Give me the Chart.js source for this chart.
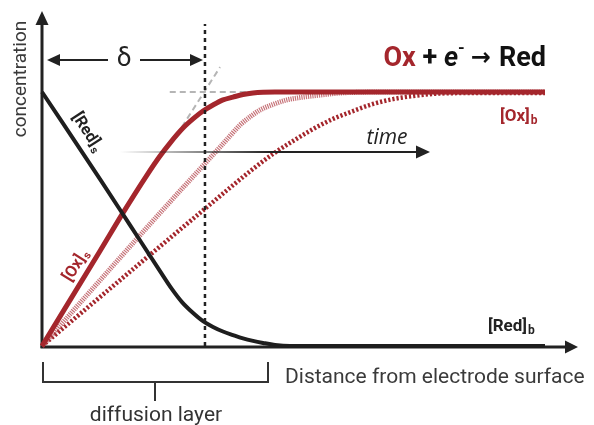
<!DOCTYPE html>
<html><head><meta charset="utf-8">
<script src="https://cdn.jsdelivr.net/npm/chart.js@4.4.0/dist/chart.umd.min.js"></script>
<style>html,body{margin:0;padding:0;background:#fff}canvas{display:block}</style>
</head><body>
<canvas id="chart" width="594" height="425"></canvas>
<script>
// distance from electrode (0-100) vs relative concentration (bulk = 1)
const oxSteadyX = [0, 11.53, 16.10, 20.87, 23.46, 25.45, 28.03, 30.02, 32.01, 34.00, 35.98, 37.97, 39.96, 41.95, 43.94, 46.32, 100];
const oxSteadyY = [0, 0.374, 0.524, 0.673, 0.748, 0.799, 0.858, 0.894, 0.925, 0.949, 0.969, 0.980, 0.990, 0.996, 0.999, 1, 1];
const oxMidX = [0, 21.47, 31.41, 35.39, 37.38, 39.36, 41.35, 43.34, 45.92, 48.71, 51.29, 55.27, 59.24, 63.22, 67.20, 100];
const oxMidY = [0, 0.480, 0.697, 0.783, 0.827, 0.870, 0.902, 0.929, 0.951, 0.969, 0.978, 0.988, 0.996, 0.999, 1, 1];
const oxLateX = [0, 31.41, 41.95, 45.92, 49.90, 53.88, 57.85, 61.83, 65.81, 69.78, 73.76, 79.13, 87.08, 100];
const oxLateY = [0, 0.524, 0.697, 0.756, 0.807, 0.854, 0.894, 0.925, 0.953, 0.972, 0.984, 0.994, 0.996, 0.996];
const redX = [0, 11.53, 17.50, 23.46, 25.84, 27.83, 29.82, 32.01, 34.00, 35.98, 37.97, 39.96, 41.95, 43.94, 46.32, 49.30, 100];
const redY = [1, 0.657, 0.476, 0.295, 0.224, 0.173, 0.134, 0.098, 0.075, 0.057, 0.043, 0.030, 0.020, 0.012, 0.004, 0, 0];
const deltaX = 32.4;
const bulkGuideX = [25.4, 43];
const tangentX = [27.8, 35.4];
const tangentY = [0.862, 1.098];

const RED = '#a4262c';
const zip = (xs, ys) => xs.map((v, i) => ({x: v, y: ys[i]}));

function arrowHead(ctx, tx, ty, dir, len, half) {
  ctx.save();
  ctx.translate(tx, ty);
  ctx.rotate(dir);
  ctx.beginPath();
  ctx.moveTo(0, 0);
  ctx.lineTo(-len, -half);
  ctx.lineTo(-len, half);
  ctx.closePath();
  ctx.fill();
  ctx.restore();
}
function seg(ctx, x1, y1, x2, y2) {
  ctx.beginPath(); ctx.moveTo(x1, y1); ctx.lineTo(x2, y2); ctx.stroke();
}
function sub(ctx, main, s, x, y, size, color) {
  ctx.fillStyle = color;
  ctx.font = 'bold ' + size + 'px Roboto';
  ctx.fillText(main, x, y);
  const w = ctx.measureText(main).width;
  ctx.font = 'bold ' + Math.round(size * 0.68) + 'px Roboto';
  ctx.fillText(s, x + w + 1, y + 3);
}

const deco = {
  id: 'deco',
  beforeDatasetsDraw(chart) {
    const {ctx, scales: {x, y}} = chart;
    const x0 = x.getPixelForValue(0), y0 = y.getPixelForValue(0);
    ctx.save();
    ctx.strokeStyle = '#222'; ctx.fillStyle = '#222'; ctx.lineWidth = 3;
    seg(ctx, x0, y0 + 2, x0, 22);
    arrowHead(ctx, x0, 11, -Math.PI / 2, 14, 6.5);
    seg(ctx, x0 - 1.5, y0 + 1, 566, y0 + 1);
    arrowHead(ctx, 578, y0 + 1, 0, 13, 6.5);
    ctx.restore();
  },
  afterDatasetsDraw(chart) {
    const {ctx, scales: {x, y}} = chart;
    const x0 = x.getPixelForValue(0);
    ctx.save();
    // time arrow
    const g = ctx.createLinearGradient(120, 0, 270, 0);
    g.addColorStop(0, 'rgba(34,34,34,0)');
    g.addColorStop(1, 'rgba(34,34,34,1)');
    ctx.strokeStyle = g; ctx.lineWidth = 2;
    seg(ctx, 120, 152, 420, 152);
    ctx.fillStyle = '#222';
    arrowHead(ctx, 430, 152, 0, 14, 6.5);
    ctx.font = 'italic 21px "Open Sans"';
    ctx.textAlign = 'center'; ctx.textBaseline = 'alphabetic';
    ctx.fillText('time', 387, 144);

    // delta arrow
    ctx.strokeStyle = '#222'; ctx.lineWidth = 2;
    seg(ctx, x0 + 10, 60, 108, 60);
    arrowHead(ctx, x0 + 5, 60, Math.PI, 13, 6);
    seg(ctx, 140, 60, 192, 60);
    arrowHead(ctx, 203, 60, 0, 13, 6);
    ctx.font = '26px Roboto'; ctx.textBaseline = 'middle';
    ctx.fillText('δ', 124, 59);

    // reaction
    ctx.textAlign = 'left'; ctx.textBaseline = 'alphabetic';
    const parts = [
      ['Ox', 'bold 27px Roboto', RED, 0, 0],
      [' + ', 'bold 27px Roboto', '#111', 0, 0],
      ['e', 'italic bold 27px Roboto', '#111', 0, 0],
      ['-', 'bold 17px Roboto', '#111', -13, 6],
      ['→', 'bold 24px "DejaVu Sans"', '#111', -1, 8],
      ['Red', 'bold 27px Roboto', '#111', 0, 0]
    ];
    let tot = 0;
    parts.forEach(p => { ctx.font = p[1]; tot += ctx.measureText(p[0]).width + p[4]; });
    let cx = 546 - tot;
    parts.forEach(p => {
      ctx.font = p[1]; ctx.fillStyle = p[2];
      ctx.fillText(p[0], cx, 66 + p[3]);
      cx += ctx.measureText(p[0]).width + p[4];
    });

    // labels
    sub(ctx, '[Ox]', 'b', 500, 121, 17, RED);
    sub(ctx, '[Red]', 'b', 488, 331, 17, '#222');
    ctx.save();
    ctx.translate(91, 135); ctx.rotate(57 * Math.PI / 180);
    ctx.textAlign = 'left';
    sub(ctx, '[Red]', 's', -26, 6, 16, '#222');
    ctx.restore();
    ctx.save();
    ctx.translate(77, 263); ctx.rotate(-58 * Math.PI / 180);
    sub(ctx, '[Ox]', 's', -20, 5, 16, RED);
    ctx.restore();

    // axis titles
    ctx.fillStyle = '#3a3a3a'; ctx.font = '21px Roboto';
    ctx.textAlign = 'left';
    ctx.fillText('Distance from electrode surface', 285, 383);
    ctx.save();
    ctx.translate(26, 79); ctx.rotate(-Math.PI / 2);
    ctx.textAlign = 'center';
    ctx.font = '19px Roboto';
    ctx.fillText('concentration', 0, 0);
    ctx.restore();

    // diffusion layer bracket
    ctx.strokeStyle = '#333'; ctx.lineWidth = 2;
    ctx.beginPath();
    ctx.moveTo(43, 362); ctx.lineTo(43, 382); ctx.lineTo(268, 382); ctx.lineTo(268, 362);
    ctx.moveTo(155, 382); ctx.lineTo(155, 401);
    ctx.stroke();
    ctx.fillStyle = '#333'; ctx.textAlign = 'center'; ctx.font = '21px Roboto';
    ctx.fillText('diffusion layer', 156, 421);
    ctx.restore();
  }
};

new Chart(document.getElementById('chart'), {
  type: 'line',
  data: {
    datasets: [
      {data: [{x: deltaX, y: 0}, {x: deltaX, y: 1.268}], borderColor: '#222', borderWidth: 2.5, borderDash: [4, 4], order: 0},
      {data: zip(redX, redY), borderColor: '#1e1e1e', borderWidth: 4, cubicInterpolationMode: 'monotone', order: 1},
      {data: zip(oxSteadyX, oxSteadyY), borderColor: RED, borderWidth: 5, cubicInterpolationMode: 'monotone', order: 2},
      {data: zip(oxMidX, oxMidY), borderColor: 'rgba(176,60,68,0.72)', borderWidth: 5, borderDash: [1.2, 1], cubicInterpolationMode: 'monotone', order: 3},
      {data: zip(oxLateX, oxLateY), borderColor: RED, borderWidth: 4.5, borderDash: [2.2, 2], cubicInterpolationMode: 'monotone', order: 4},
      {data: zip(bulkGuideX, [1, 1]), borderColor: '#b5b5b5', borderWidth: 2, borderDash: [6, 4], order: 5},
      {data: zip(tangentX, tangentY), borderColor: '#b5b5b5', borderWidth: 2, borderDash: [6, 4], order: 6}
    ]
  },
  options: {
    responsive: false,
    animation: false,
    layout: {padding: {left: 42, right: 49, top: 92, bottom: 79}},
    elements: {point: {radius: 0}, line: {borderCapStyle: 'butt', fill: false}},
    datasets: {line: {clip: false}},
    scales: {
      x: {type: 'linear', min: 0, max: 100, display: false},
      y: {type: 'linear', min: 0, max: 1, display: false}
    },
    plugins: {legend: {display: false}, tooltip: {enabled: false}}
  },
  plugins: [deco]
});
</script>
</body></html>
